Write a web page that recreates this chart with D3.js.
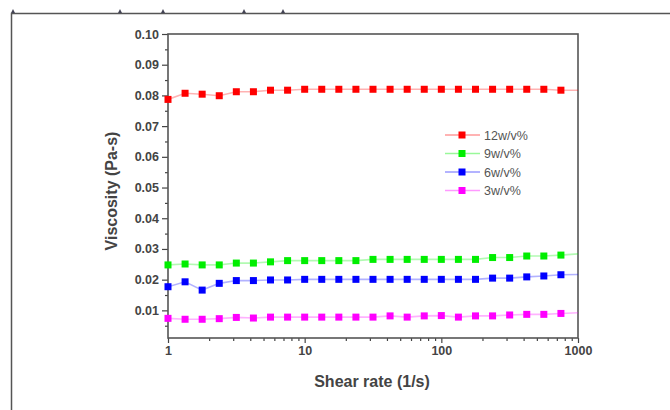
<!DOCTYPE html>
<html>
<head>
<meta charset="utf-8">
<script src="https://cdnjs.cloudflare.com/ajax/libs/d3/7.8.5/d3.min.js"></script>
<style>
body { margin: 0; background: #fff; }
text { font-family: "Liberation Sans", Arial, sans-serif; }
</style>
</head>
<body>
<svg id="chart" width="670" height="410"></svg>
<script>
// shear rates: 8 points per decade, 1 .. 1000
const shearRate = d3.range(25).map(k => Math.pow(10, k / 8));

const seriesNames = ["12w/v%", "9w/v%", "6w/v%", "3w/v%"];
const seriesColors = ["#ff0000", "#00ee00", "#0000ff", "#ff00ff"];

const visc12 = [0.0787, 0.0807, 0.0804, 0.0799, 0.0812, 0.0812, 0.0817, 0.0817, 0.0820, 0.0820,
  0.0820, 0.0820, 0.0820, 0.0820, 0.0820, 0.0820, 0.0820, 0.0820, 0.0820, 0.0820,
  0.0820, 0.0820, 0.0820, 0.0817, 0.0817];
const visc9 = [0.0248, 0.0251, 0.0248, 0.0248, 0.0254, 0.0254, 0.0258, 0.0262, 0.0262, 0.0262,
  0.0262, 0.0262, 0.0266, 0.0266, 0.0266, 0.0266, 0.0266, 0.0266, 0.0266, 0.0272,
  0.0272, 0.0277, 0.0277, 0.0280, 0.0284];
const visc6 = [0.0177, 0.0193, 0.0166, 0.0188, 0.0197, 0.0197, 0.0199, 0.0199, 0.0201, 0.0201,
  0.0201, 0.0201, 0.0201, 0.0201, 0.0201, 0.0201, 0.0201, 0.0201, 0.0201, 0.0205,
  0.0205, 0.0209, 0.0212, 0.0216, 0.0217];
const visc3 = [0.0074, 0.0071, 0.0071, 0.0073, 0.0077, 0.0075, 0.0078, 0.0078, 0.0078, 0.0078,
  0.0078, 0.0078, 0.0078, 0.0082, 0.0078, 0.0082, 0.0083, 0.0078, 0.0082, 0.0082,
  0.0085, 0.0087, 0.0087, 0.0090, 0.0092];
const allSeries = [visc12, visc9, visc6, visc3];

const yTicks = [0.01, 0.02, 0.03, 0.04, 0.05, 0.06, 0.07, 0.08, 0.09, 0.10];
const xTicks = [1, 10, 100, 1000];

const svg = d3.select("#chart");
const pLeft = 168, pRight = 578, pTop = 34, pBottom = 338;

// outer page frame (cropped figure border)
svg.append("path")
  .attr("d", "M11.5,410 V13.5 H670")
  .attr("fill", "none").attr("stroke", "#555").attr("stroke-width", 1.5);
[13, 120, 163, 244, 283].forEach(function(px) {
  svg.append("path").attr("d", "M" + (px - 2) + ",13 l2,-4 l2,4")
    .attr("fill", "#445").attr("stroke", "none");
});

const x = d3.scaleLog().domain([1, 1000]).range([pLeft, pRight]);
const y = d3.scaleLinear().domain([0.001, 0.10]).range([pBottom, pTop]);

const defs = svg.append("defs");
defs.append("clipPath").attr("id", "clipLine")
  .append("rect").attr("x", pLeft).attr("y", pTop).attr("width", pRight - pLeft).attr("height", pBottom - pTop);
defs.append("clipPath").attr("id", "clipMark")
  .append("rect").attr("x", pLeft - 4).attr("y", pTop).attr("width", pRight - pLeft).attr("height", pBottom - pTop);

// y axis
svg.append("g").attr("transform", "translate(" + pLeft + ",0)")
  .call(d3.axisLeft(y).tickValues(yTicks).tickFormat(d3.format(".2f")).tickSize(6).tickPadding(3));
svg.append("g").attr("transform", "translate(" + pLeft + ",0)")
  .call(d3.axisLeft(y).tickValues(d3.range(0.005, 0.1, 0.01)).tickFormat("").tickSize(3));

// x axis
svg.append("g").attr("transform", "translate(0," + pBottom + ")")
  .call(d3.axisBottom(x).tickValues(xTicks).tickFormat(d3.format("d")).tickSize(5).tickPadding(3));
const minor = [];
[1, 10, 100].forEach(function(d) { for (let m = 2; m < 10; m++) minor.push(d * m); });
svg.append("g").attr("transform", "translate(0," + pBottom + ")")
  .call(d3.axisBottom(x).tickValues(minor).tickFormat("").tickSize(3));

svg.selectAll(".tick line").attr("stroke", "#444").attr("stroke-width", 1.2);
svg.selectAll(".domain").remove();
svg.selectAll(".tick text").attr("fill", "#444").style("font-size", "12.5px").style("font-weight", "bold");

// plot box
svg.append("rect").attr("x", pLeft).attr("y", pTop).attr("width", pRight - pLeft).attr("height", pBottom - pTop)
  .attr("fill", "none").attr("stroke", "#555").attr("stroke-width", 1.6);

// data
const lines = svg.append("g").attr("clip-path", "url(#clipLine)");
const marks = svg.append("g").attr("clip-path", "url(#clipMark)");
const line = d3.line().x(d => x(d[0])).y(d => y(d[1]));
allSeries.forEach(function(vals, i) {
  const pts = shearRate.map((s, j) => [s, vals[j]]);
  lines.append("path").datum(pts).attr("d", line)
    .attr("fill", "none").attr("stroke", seriesColors[i]).attr("stroke-opacity", 0.3).attr("stroke-width", 1.6);
  marks.selectAll(".m" + i).data(pts).enter().append("rect")
    .attr("x", d => x(d[0]) - 3.5).attr("y", d => y(d[1]) - 3.5)
    .attr("width", 7).attr("height", 7)
    .attr("fill", seriesColors[i]);
});

// legend
const legend = svg.append("g");
seriesNames.forEach(function(name, i) {
  const ly = 135 + i * 18.5;
  legend.append("line").attr("x1", 445).attr("x2", 480).attr("y1", ly).attr("y2", ly)
    .attr("stroke", seriesColors[i]).attr("stroke-opacity", 0.4).attr("stroke-width", 1.6);
  legend.append("rect").attr("x", 458.5).attr("y", ly - 3.5).attr("width", 7).attr("height", 7)
    .attr("fill", seriesColors[i]);
  legend.append("text").attr("x", 484).attr("y", ly + 4.5).text(name)
    .attr("fill", "#555").style("font-size", "12.5px");
});

// axis titles
svg.append("text").attr("transform", "translate(117,191) rotate(-90)")
  .attr("text-anchor", "middle").attr("fill", "#444")
  .style("font-size", "16px").style("font-weight", "bold").text("Viscosity (Pa-s)");
svg.append("text").attr("x", 372).attr("y", 387)
  .attr("text-anchor", "middle").attr("fill", "#444")
  .style("font-size", "16px").style("font-weight", "bold").text("Shear rate (1/s)");
</script>
</body>
</html>
